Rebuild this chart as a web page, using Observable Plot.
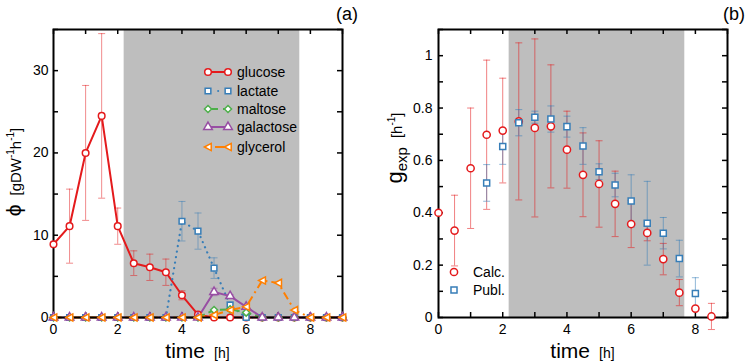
<!DOCTYPE html>
<html><head><meta charset="utf-8">
<script src="https://cdn.jsdelivr.net/npm/d3@7"></script>
<script src="https://cdn.jsdelivr.net/npm/@observablehq/plot@0.6"></script>
<style>
body{margin:0;background:#fff;}
#wrap{position:relative;width:747px;height:362px;font-family:"Liberation Sans",Arial,Helvetica,sans-serif;}
#wrap svg{position:absolute;top:0;}
</style></head><body><div id="wrap"></div>
<script>
// ---------- data: panel (a) ----------
const times = [0,0.5,1,1.5,2,2.5,3,3.5,4,4.5,5,5.5,6,6.5,7,7.5,8,8.5,9];
const glucose    = [8.9,11.1,20.0,24.5,11.1,6.6,6.1,5.5,2.7,0.35,0,0,0,0,0,0,0,0,0];
const glucoseErr = [0,4.5,8.2,10.0,2.2,1.5,1.6,1.6,0.55,0,0,0,0,0,0,0,0,0,0];
const lactate    = [0,0,0,0,0,0,0,0,11.7,10.5,6.0,1.5,0,0,0,0,0,0,0];
const lactateErr = [0,0,0,0,0,0,0,0,2.4,2.2,1.25,0.4,0,0,0,0,0,0,0];
const maltose    = [0,0,0,0,0,0,0,0,0,0,0.9,1.0,0.6,0,0,0,0,0,0];
const maltoseErr = [0,0,0,0,0,0,0,0,0,0,0,0,0,0,0,0,0,0,0];
const galactose    = [0,0,0,0,0,0,0,0,0,0,3.1,2.6,1.3,0,0,0,0,0,0];
const galactoseErr = [0,0,0,0,0,0,0,0,0,0,0.45,0.2,0,0,0,0,0,0,0];
const glycerol    = [0,0,0,0,0,0,0,0,0,0,0.3,0.9,1.3,4.5,4.2,0.9,0,0,0];
const glycerolErr = [0,0,0,0,0,0,0,0,0,0,0,0,0,0,0,0,0,0,0];
const seriesNames = ["glucose","lactate","maltose","galactose","glycerol"];

// ---------- data: panel (b) ----------
const calcTimes = [0,0.5,1,1.5,2,2.5,3,3.5,4,4.5,5,5.5,6,6.5,7,7.5,8,8.5];
const calc    = [0.40,0.332,0.57,0.698,0.714,0.749,0.724,0.730,0.641,0.545,0.51,0.434,0.357,0.323,0.223,0.095,0.034,0.004];
const calcErr = [0,0.135,0.23,0.285,0.2,0.3,0.34,0.235,0.147,0.16,0.165,0.125,0.09,0.03,0.06,0.05,0,0.05];
const publTimes = [1.5,2,2.5,3,3.5,4,4.5,5,5.5,6,6.5,7,7.5,8];
const publ    = [0.514,0.653,0.744,0.765,0.758,0.729,0.655,0.557,0.506,0.445,0.36,0.322,0.225,0.092];
const publErr = [0.07,0.068,0.05,0.023,0.05,0.04,0.07,0.03,0.045,0.1,0.16,0.06,0.07,0.06];

// shaded interval (h)
const shadeStart = [2.2];
const shadeEnd = [7.67];

// ticks
const xMajorTicks = [0,2,4,6,8];
const xMinorTicks = [0,1,2,3,4,5,6,7,8,9];
const yTicksA = [0,10,20,30];
const yMinorA = [0,5,10,15,20,25,30,35];
const yTicksB = [0,0.2,0.4,0.6,0.8,1];
const yMinorB = [0,0.1,0.2,0.3,0.4,0.5,0.6,0.7,0.8,0.9,1.0,1.1];

// ---------- styles ----------
const FONT = '"Liberation Sans", Arial, Helvetica, sans-serif';
const colors = {glucose:"#e41a1c", lactate:"#377eb8", maltose:"#4daf4a", galactose:"#984ea3", glycerol:"#ff7f00"};
const dashes = {glucose:null, lactate:"0.1,5.5", maltose:"8,4", galactose:null, glycerol:"8,4,2,4"};
const capSym = {draw(ctx){ctx.moveTo(-3.5,0);ctx.lineTo(3.5,0);}};
const triLeft = {draw(ctx){ctx.moveTo(-3.6,0);ctx.lineTo(3.2,-3.6);ctx.lineTo(3.2,3.6);ctx.closePath();}};
const symbols = {glucose:"circle", lactate:"square", maltose:"diamond2", galactose:"triangle", glycerol:triLeft};
const radii = {glucose:3.3, lactate:3.2, maltose:3.2, galactose:3.2, glycerol:3.5};

const seriesValues = {glucose, lactate, maltose, galactose, glycerol};
const seriesErrs = {glucose:glucoseErr, lactate:lactateErr, maltose:maltoseErr, galactose:galactoseErr, glycerol:glycerolErr};
const shade = shadeStart.map((s,i)=>({a:s, b:shadeEnd[i]}));

function frameTicks(xt, yt, fw, fh) {
  return [
    Plot.tickX(xt, {x: d=>d, insetTop: fh-5, stroke:"black", strokeWidth:1.5}),
    Plot.tickX(xt, {x: d=>d, insetBottom: fh-5, stroke:"black", strokeWidth:1.5}),
    Plot.tickY(yt, {y: d=>d, insetRight: fw-5, stroke:"black", strokeWidth:1.5}),
    Plot.tickY(yt, {y: d=>d, insetLeft: fw-5, stroke:"black", strokeWidth:1.5})
  ];
}
function errMarks(rows, color, opacity) {
  const r = rows.filter(d=>d.e>0);
  return [
    Plot.ruleX(r, {x:"t", y1:d=>d.v-d.e, y2:d=>d.v+d.e, stroke:color, strokeOpacity:opacity, strokeWidth:1}),
    Plot.dot(r, {x:"t", y:d=>d.v+d.e, symbol:capSym, r:3, fill:"none", stroke:color, strokeOpacity:opacity, strokeWidth:1}),
    Plot.dot(r, {x:"t", y:d=>d.v-d.e, symbol:capSym, r:3, fill:"none", stroke:color, strokeOpacity:opacity, strokeWidth:1})
  ];
}

// ---------- panel (a) ----------
const WA = 373, HA = 362, mLA = 53, mRA = 31, mTA = 29, mBA = 45;
const fwA = WA-mLA-mRA, fhA = HA-mTA-mBA;
const rowsA = {};
seriesNames.forEach(n => rowsA[n] = times.map((t,i)=>({t, v: seriesValues[n][i], e: seriesErrs[n][i]})));

const marksA = [Plot.rect(shade, {x1:"a", x2:"b", fill:"#bebebe"})];
seriesNames.forEach(n => marksA.push(Plot.line(rowsA[n], {x:"t", y:"v", stroke:colors[n], strokeWidth: n==="lactate"?2.2:2, strokeDasharray:dashes[n], strokeLinecap: n==="lactate"?"round":"butt"})));
seriesNames.forEach(n => marksA.push(...errMarks(rowsA[n], colors[n], 0.5)));
marksA.push(Plot.frame({stroke:"black", strokeWidth:2}));
marksA.push(...frameTicks(xMinorTicks, yMinorA, fwA, fhA));
seriesNames.forEach(n => marksA.push(Plot.dot(rowsA[n], {x:"t", y:"v", symbol:symbols[n], r:radii[n], fill:"white", stroke:colors[n], strokeWidth:1.5})));
marksA.push(Plot.axisX(xMajorTicks, {anchor:"bottom", tickSize:0, tickPadding:7, label:null, fontSize:14}));
marksA.push(Plot.axisY(yTicksA, {anchor:"left", tickSize:0, tickPadding:5, label:null, fontSize:14, tickFormat:d=>String(d)}));

const plotA = Plot.plot({
  width: WA, height: HA, marginLeft: mLA, marginRight: mRA, marginTop: mTA, marginBottom: mBA,
  x: {domain:[0,9]}, y: {domain:[0,35]},
  style: {fontFamily: FONT, fontSize:"14px", background:"transparent", color:"black", overflow:"visible"},
  marks: marksA
});

// ---------- panel (b) ----------
const WB = 374, HB = 362, mLB = 65, mRB = 20, mTB = 29, mBB = 45;
const fwB = WB-mLB-mRB, fhB = HB-mTB-mBB;
const calcRows = calcTimes.map((t,i)=>({t, v:calc[i], e:calcErr[i]}));
const publRows = publTimes.map((t,i)=>({t, v:publ[i], e:publErr[i]}));

const plotB = Plot.plot({
  width: WB, height: HB, marginLeft: mLB, marginRight: mRB, marginTop: mTB, marginBottom: mBB,
  x: {domain:[0,9]}, y: {domain:[0,1.1]},
  style: {fontFamily: FONT, fontSize:"14px", background:"transparent", color:"black", overflow:"visible"},
  marks: [
    Plot.rect(shade, {x1:"a", x2:"b", fill:"#bebebe"}),
    ...errMarks(calcRows, colors.glucose, 0.55),
    ...errMarks(publRows, colors.lactate, 0.55),
    Plot.frame({stroke:"black", strokeWidth:2}),
    ...frameTicks(xMinorTicks, yMinorB, fwB, fhB),
    Plot.dot(calcRows, {x:"t", y:"v", symbol:"circle", r:3.6, fill:"white", stroke:colors.glucose, strokeWidth:1.5}),
    Plot.dot(publRows, {x:"t", y:"v", symbol:"square", r:3.4, fill:"white", stroke:colors.lactate, strokeWidth:1.5}),
    Plot.axisX(xMajorTicks, {anchor:"bottom", tickSize:0, tickPadding:7, label:null, fontSize:14}),
    Plot.axisY(yTicksB, {anchor:"left", tickSize:0, tickPadding:6, label:null, fontSize:14, tickFormat:d=>String(d)})
  ]
});

const wrap = document.getElementById("wrap");
plotA.style.left = "0px"; plotB.style.left = WA + "px";
wrap.appendChild(plotA); wrap.appendChild(plotB);

// ---------- annotations ----------
const sA = d3.select(plotA), sB = d3.select(plotB);
function sym(s, r) { return d3.symbol(typeof s === "string" ? ({circle:d3.symbolCircle, square:d3.symbolSquare, diamond2:d3.symbolDiamond2, triangle:d3.symbolTriangle})[s] : s, Math.PI*r*r)(); }

// panel labels
sA.append("text").attr("x", 358).attr("y", 20).attr("text-anchor","end").attr("font-size",18).attr("font-family",FONT).text("(a)");
sB.append("text").attr("x", 372).attr("y", 20).attr("text-anchor","end").attr("font-size",18).attr("font-family",FONT).text("(b)");

// x titles
function xTitle(sel, cx) {
  const t = sel.append("text").attr("x", cx).attr("y", 358).attr("text-anchor","middle").attr("font-family",FONT).attr("fill","black");
  t.append("tspan").attr("font-size",21).text("time");
  t.append("tspan").attr("font-size",14).attr("dx",9).text("[h]");
}
xTitle(sA, mLA + fwA/2);
xTitle(sB, mLB + fwB/2);

// y titles
{
  const t = sA.append("text").attr("transform","translate(21,172) rotate(-90)").attr("text-anchor","middle").attr("font-family",FONT).attr("fill","black");
  t.append("tspan").attr("font-size",21).text("ϕ");
  t.append("tspan").attr("font-size",15).attr("dx",9).text("[gDW");
  t.append("tspan").attr("font-size",10).attr("dy",-7).text("-1");
  t.append("tspan").attr("font-size",15).attr("dy",7).text("h");
  t.append("tspan").attr("font-size",10).attr("dy",-7).text("-1");
  t.append("tspan").attr("font-size",15).attr("dy",7).text("]");
}
{
  const t = sB.append("text").attr("transform","translate(29,148) rotate(-90)").attr("text-anchor","middle").attr("font-family",FONT).attr("fill","black");
  t.append("tspan").attr("font-size",22).text("g");
  t.append("tspan").attr("font-size",15).attr("dy",5).text("exp");
  t.append("tspan").attr("font-size",15).attr("dx",9).attr("dy",-5).text("[h");
  t.append("tspan").attr("font-size",10).attr("dy",-7).text("-1");
  t.append("tspan").attr("font-size",15).attr("dy",7).text("]");
}

// legend (a)
{
  const g = sA.append("g").attr("font-family",FONT).attr("font-size",14).attr("text-anchor","start");
  const rowY = [72, 91, 109, 127, 147];
  seriesNames.forEach((n,i) => {
    const y = rowY[i];
    g.append("line").attr("x1",208).attr("x2",228).attr("y1",y).attr("y2",y).attr("stroke",colors[n]).attr("stroke-width",2)
      .attr("stroke-dasharray", n==="lactate" ? "0.1,10" : n==="maltose" ? "10,5" : n==="glycerol" ? "0,7,13" : null)
      .attr("stroke-linecap", n==="lactate" ? "round" : "butt");
    [208,228].forEach(x => g.append("path").attr("d", sym(symbols[n], radii[n])).attr("transform",`translate(${x},${y})`).attr("fill","white").attr("stroke",colors[n]).attr("stroke-width",1.5));
    g.append("text").attr("x",237).attr("y",y+5).attr("text-anchor","start").attr("fill","black").text(n);
  });
}
// legend (b)
{
  const g = sB.append("g").attr("font-family",FONT).attr("font-size",14).attr("text-anchor","start");
  g.append("path").attr("d", sym("circle",3.6)).attr("transform","translate(81,272)").attr("fill","white").attr("stroke",colors.glucose).attr("stroke-width",1.5);
  g.append("text").attr("x",100).attr("y",277).attr("text-anchor","start").attr("fill","black").text("Calc.");
  g.append("path").attr("d", sym("square",3.4)).attr("transform","translate(81,290)").attr("fill","white").attr("stroke",colors.lactate).attr("stroke-width",1.5);
  g.append("text").attr("x",100).attr("y",295).attr("text-anchor","start").attr("fill","black").text("Publ.");
}
</script></body></html>
